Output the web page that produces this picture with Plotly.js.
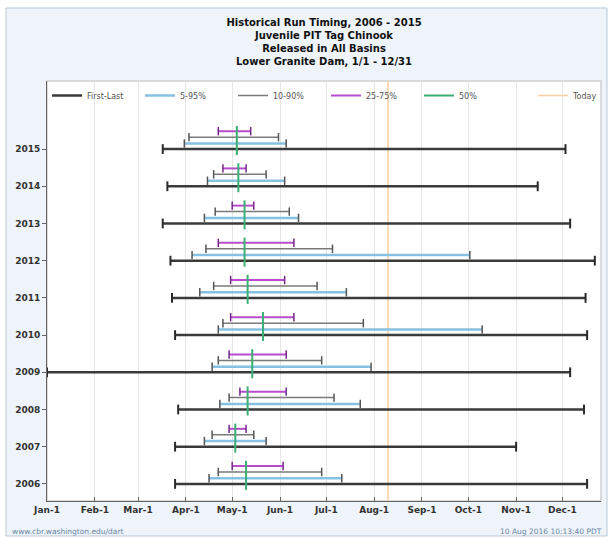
<!DOCTYPE html>
<html><head><meta charset="utf-8">
<script src="https://cdn.plot.ly/plotly-3.0.1.min.js"></script>
<style>html,body{margin:0;padding:0;background:#fff;} #chart{width:613px;height:537px;}</style>
</head><body><div id="chart"></div>
<script>
// ---- data (month-day of run timing, per year) ----
const years     = [2006, 2007, 2008, 2009, 2010, 2011, 2012, 2013, 2014, 2015];
const yearLabels = ['2006','2007','2008','2009','2010','2011','2012','2013','2014','2015'];
const firstDay  = ['03-25','03-25','03-27','01-01','03-25','03-23','03-22','03-17','03-20','03-17'];
const lastDay   = ['12-17','11-01','12-15','12-06','12-17','12-16','12-22','12-06','11-15','12-03'];
const pct05     = ['04-16','04-13','04-23','04-18','04-22','04-10','04-05','04-13','04-15','03-31'];
const pct95     = ['07-11','05-23','07-23','07-30','10-10','07-14','10-02','06-13','06-04','06-05'];
const pct10     = ['04-22','04-18','04-29','04-22','04-25','04-19','04-14','04-20','04-19','04-03'];
const pct90     = ['06-28','05-15','07-06','06-28','07-25','06-25','07-05','06-07','05-23','05-31'];
const pct25     = ['05-01','04-29','05-06','04-29','04-30','04-30','04-22','05-01','04-25','04-22'];
const pct75     = ['06-03','05-10','06-05','06-05','06-10','06-04','06-10','05-15','05-10','05-13'];
const pct50     = ['05-10','05-03','05-11','05-14','05-21','05-11','05-09','05-09','05-05','05-04'];
const todayDay  = '08-10';
const monthTickDays  = ['01-01','02-01','03-01','04-01','05-01','06-01','07-01','08-01','09-01','10-01','11-01','12-01'];
const monthTickLabels = ['Jan-1','Feb-1','Mar-1','Apr-1','May-1','Jun-1','Jul-1','Aug-1','Sep-1','Oct-1','Nov-1','Dec-1'];

// ---- helpers ----
const BASE = '2001-';
const d = s => BASE + s;
const yRange = [2005.54, 2016.83];

function segTrace(lo, hi, off, name, color, width, rank) {
  const x = [], y = [];
  years.forEach((yr, i) => { x.push(d(lo[i]), d(hi[i]), null); y.push(yr + off, yr + off, null); });
  return {type:'scatter', mode:'lines', x, y, name, legendrank:rank,
          line:{color, width}, hoverinfo:'skip', cliponaxis:false};
}
function capTrace(lo, hi, off, color, size, w) {
  const x = [], y = [];
  years.forEach((yr, i) => { x.push(d(lo[i]), d(hi[i])); y.push(yr + off, yr + off); });
  return {type:'scatter', mode:'markers', x, y, showlegend:false, hoverinfo:'skip', cliponaxis:false,
          marker:{symbol:'line-ns', size, color, line:{color, width:w}}};
}
function medianTrace() {
  const x = [], y = [];
  years.forEach((yr, i) => { x.push(d(pct50[i]), d(pct50[i]), null); y.push(yr - 0.16, yr + 0.62, null); });
  return {type:'scatter', mode:'lines', x, y, name:'50%', legendrank:5,
          line:{color:'#3aae74', width:2}, hoverinfo:'skip'};
}

const traces = [
  {type:'scatter', mode:'lines', x:[d(todayDay), d(todayDay)], y:yRange, name:'Today', legend:'legend2',
   line:{color:'#f6cfa2', width:1.5}, hoverinfo:'skip'},
  segTrace(firstDay, lastDay, 0, 'First-Last', '#3a3a3a', 2.5, 1),
  capTrace(firstDay, lastDay, 0, '#2a2a2a', 7, 2),
  segTrace(pct05, pct95, 0.15, '5-95%', '#86c1e2', 2.5, 2),
  capTrace(pct05, pct95, 0.15, '#555', 6, 1.5),
  segTrace(pct10, pct90, 0.32, '10-90%', '#7a7a7a', 1.5, 3),
  capTrace(pct10, pct90, 0.32, '#555', 6, 1.5),
  segTrace(pct25, pct75, 0.48, '25-75%', '#b84ccc', 2, 4),
  capTrace(pct25, pct75, 0.48, '#74278a', 6, 1.5),
  medianTrace()
];

const W = 613, H = 537, L = 47, R = 12, T = 81, B = 36;
const pw = W - L - R, ph = H - T - B;
const px = x => (x - L) / pw;
const py = y => (H - B - y) / ph;

const legendCommon = {
  orientation:'h', yanchor:'top', y:1, xanchor:'left',
  bgcolor:'rgba(0,0,0,0)', borderwidth:0,
  font:{size:8, color:'#555'}, traceorder:'normal'
};

const layout = {
  width: W, height: H,
  margin: {l:L, r:R, t:T, b:B, pad:0, autoexpand:false},
  paper_bgcolor:'#ffffff', plot_bgcolor:'#ffffff',
  font: {family:'DejaVu Sans, Verdana, sans-serif', color:'#222'},
  showlegend: true,
  title: {
    text: '<b>Historical Run Timing, 2006 - 2015</b><br><b>Juvenile PIT Tag Chinook</b><br><b>Released in All Basins</b><br><b>Lower Granite Dam, 1/1 - 12/31</b>',
    font: {size:10, color:'#111'},
    xref:'paper', x:0.5, xanchor:'center',
    yref:'container', y: 1 - 26/H, yanchor:'top'
  },
  legend: Object.assign({}, legendCommon, {x:0.0, entrywidth:48, entrywidthmode:'pixels'}),
  legend2: Object.assign({}, legendCommon, {x:px(533)}),
  xaxis: {
    type:'date', range:[d('01-01'), d('12-26')],
    tickmode:'array', tickvals: monthTickDays.map(d), ticktext: monthTickLabels,
    ticks:'inside', ticklen:4, tickcolor:'#666',
    showgrid:true, gridcolor:'#e6e6e6', gridwidth:1,
    showline:true, linecolor:'#666', linewidth:1, zeroline:false,
    tickfont:{size:9, color:'#333', weight:'bold'}, fixedrange:true
  },
  yaxis: {
    range: yRange,
    tickmode:'array', tickvals: years, ticktext: yearLabels,
    ticks:'outside', ticklen:4, tickcolor:'#666',
    showgrid:false, showline:true, linecolor:'#666', linewidth:1, zeroline:false,
    tickfont:{size:9, color:'#333', weight:'bold'}, fixedrange:true
  },
  shapes: [
    {type:'rect', xref:'paper', yref:'paper', x0:px(6), x1:px(607), y0:py(536), y1:py(8),
     fillcolor:'#eef4fa', line:{color:'#b9c8d6', width:1}, layer:'below'},
    {type:'rect', xref:'paper', yref:'paper', x0:0, x1:1, y0:0, y1:1,
     fillcolor:'#ffffff', line:{color:'#cfcfcf', width:1.5}, layer:'below'}
  ],
  annotations: [
    {xref:'paper', yref:'paper', x:px(10), y:py(531), xanchor:'left', yanchor:'middle',
     text:'www.cbr.washington.edu/dart', showarrow:false, font:{size:7.5, color:'#6a86a2'}},
    {xref:'paper', yref:'paper', x:px(604), y:py(531), xanchor:'right', yanchor:'middle',
     text:'10 Aug 2016 10:13:40 PDT', showarrow:false, font:{size:7.5, color:'#6a86a2'}}
  ]
};

Plotly.newPlot('chart', traces, layout, {displayModeBar:false, staticPlot:true});
</script>
</body></html>
